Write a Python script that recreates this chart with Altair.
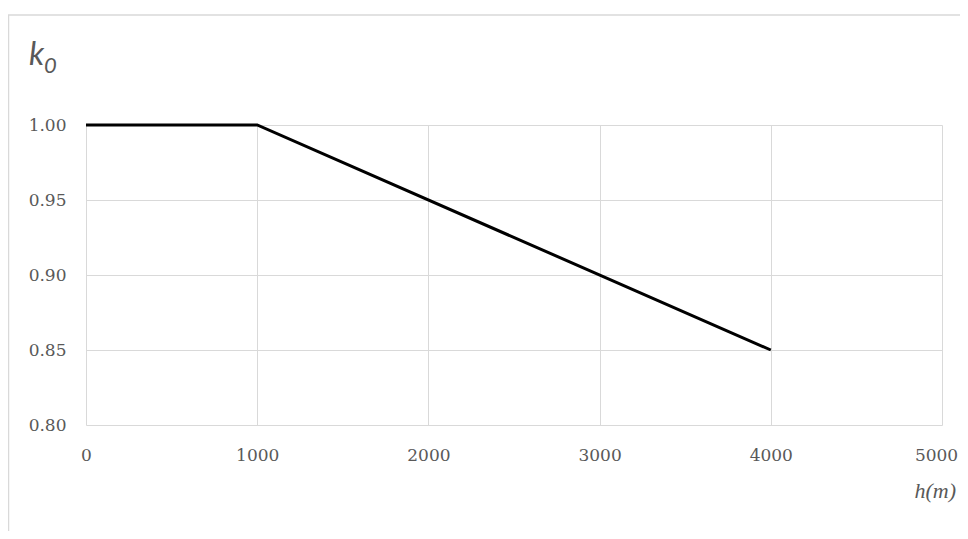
import altair as alt
import pandas as pd

h_values = [0, 1000, 4000]
k0_values = [1.00, 1.00, 0.85]
x_ticks = [0, 1000, 2000, 3000, 4000, 5000]
y_ticks = [0.80, 0.85, 0.90, 0.95, 1.00]

df = pd.DataFrame({"h": h_values, "k0": k0_values})

W, H = 856, 300
PAD_L, PAD_T = 78, 117
TOTAL_W, TOTAL_H = 952, 523

grid = "#d9d9d9"
lab = "#595959"

line = alt.Chart(df).mark_line(color="black", strokeWidth=3).encode(
    x=alt.X("h:Q", scale=alt.Scale(domain=[0, 5000], nice=False),
            axis=alt.Axis(values=x_ticks, title=None, format="d", labelFlush=False,
                          labelOffset=alt.condition("datum.value == 5000", alt.value(-6), alt.value(0)))),
    y=alt.Y("k0:Q", scale=alt.Scale(domain=[0.8, 1.0], nice=False, zero=False),
            axis=alt.Axis(values=y_ticks, title=None, format=".2f", labelFlush=False)),
)

one = pd.DataFrame({"t": [""]})

frame_top = alt.Chart(one).mark_rule(color=grid, strokeWidth=1.5).encode(
    x=alt.value(-PAD_L), x2=alt.value(TOTAL_W - PAD_L), y=alt.value(-110))
frame_left = alt.Chart(one).mark_rule(color=grid, strokeWidth=1.5).encode(
    x=alt.value(-77.5), y=alt.value(-110), y2=alt.value(TOTAL_H - PAD_T))

k_text = alt.Chart(one).mark_text(font="Lato", fontStyle="italic", fontSize=32,
                                  color=lab, align="left", baseline="alphabetic").encode(
    x=alt.value(-57), y=alt.value(-60), text=alt.value("k"))
sub_text = alt.Chart(one).mark_text(font="Lato", fontStyle="italic", fontSize=22,
                                    color=lab, align="left", baseline="alphabetic").encode(
    x=alt.value(-42), y=alt.value(-52), text=alt.value("0"))
h_text = alt.Chart(one).mark_text(font="Liberation Serif", fontStyle="italic", fontSize=22,
                                  color=lab, align="right", baseline="alphabetic").encode(
    x=alt.value(870), y=alt.value(373), text=alt.value("h(m)"))

chart = alt.layer(frame_top, frame_left, line, k_text, sub_text, h_text).properties(
    width=W, height=H,
    autosize=alt.AutoSizeParams(type="none"),
    padding={"left": PAD_L, "top": PAD_T, "right": TOTAL_W - PAD_L - W, "bottom": TOTAL_H - PAD_T - H},
).configure_view(strokeWidth=0).configure_axis(
    grid=True, gridColor=grid, gridWidth=1, domain=False, ticks=False,
    labelFont="DejaVu Serif", labelFontSize=17, labelColor=lab,
).configure_axisX(labelPadding=22).configure_axisY(labelPadding=20)

chart.save("out.html", embed_options={"renderer": "svg", "actions": False})
